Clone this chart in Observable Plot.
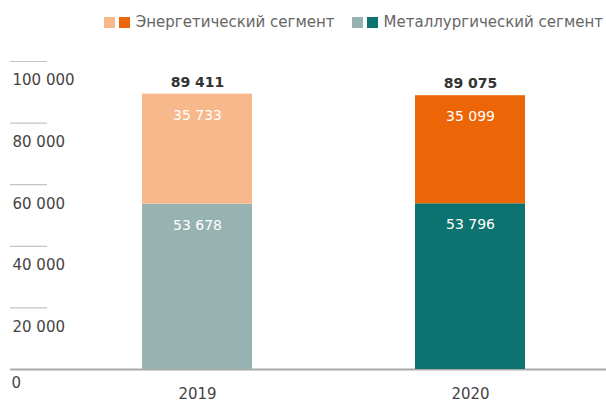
<!DOCTYPE html>
<html>
<head>
<meta charset="utf-8">
<script src="https://cdn.jsdelivr.net/npm/d3@7"></script>
<script src="https://cdn.jsdelivr.net/npm/@observablehq/plot@0.6"></script>
<style>
  html, body { margin: 0; padding: 0; background: #fff; overflow: hidden; }
  body { width: 606px; height: 402px; font-family: "DejaVu Sans", sans-serif; }
  #legend { height: 40px; display: flex; justify-content: flex-end; align-items: flex-start; padding-right: 3px; box-sizing: border-box; padding-top: 15px; font-size: 15px; color: #666; }
  .item { display: flex; align-items: center; margin-left: 17px; }
  .sw { width: 11px; height: 11px; margin-right: 4px; }
  .item span.lbl { margin-left: 2px; line-height: 15px; }
</style>
</head>
<body>
<div id="legend"></div>
<div id="chart"></div>
<script>
const years = ["2019", "2020"];
const metallurgical = [53678, 53796];
const energy = [35733, 35099];
const totals = [89411, 89075];
const segmentNames = ["Энергетический сегмент", "Металлургический сегмент"];
const energyColors = ["#F7B98B", "#EC6608"];
const metColors = ["#96B2B1", "#0D7370"];
const yTicks = [20000, 40000, 60000, 80000, 100000];

const fmt = d3.formatLocale({thousands: " ", grouping: [3], decimal: ",", currency: ["", ""]}).format(",d");

// legend
const legend = document.getElementById("legend");
[[energyColors, segmentNames[0]], [metColors, segmentNames[1]]].forEach(([cols, name]) => {
  const it = document.createElement("div");
  it.className = "item";
  cols.forEach(c => {
    const s = document.createElement("div");
    s.className = "sw";
    s.style.background = c;
    it.appendChild(s);
  });
  const l = document.createElement("span");
  l.className = "lbl";
  l.textContent = name;
  it.appendChild(l);
  legend.appendChild(it);
});

const rows = [];
years.forEach((y, i) => {
  rows.push({year: y, segment: segmentNames[1], value: metallurgical[i], color: metColors[i]});
  rows.push({year: y, segment: segmentNames[0], value: energy[i], color: energyColors[i]});
});
const totalRows = years.map((y, i) => ({year: y, total: totals[i]}));

const chart = Plot.plot({
  width: 606,
  height: 382,
  marginLeft: 10,
  marginRight: 0,
  marginTop: 21,
  marginBottom: 53,
  style: {fontFamily: "DejaVu Sans, sans-serif", background: "#fff"},
  x: {domain: years, paddingInner: 0.597, paddingOuter: 0.39, align: 0.62, label: null},
  y: {domain: [0, 100000], label: null},
  color: {type: "identity"},
  marks: [
    Plot.axisY({ticks: yTicks, tickSize: -37, text: null, stroke: "#c4c4c4", strokeWidth: 1.2}),
    Plot.axisY({ticks: yTicks, tickSize: 0, tickPadding: 0, textAnchor: "start", dx: 2, dy: 19, fontSize: 15, fill: "#444", tickFormat: fmt}),
    Plot.axisY({ticks: [0], tickSize: 0, tickPadding: 0, textAnchor: "start", dx: 1, dy: 14, fontSize: 15, fill: "#444", tickFormat: fmt}),
    Plot.axisX({tickSize: 0, tickPadding: 19, fontSize: 15, fill: "#444"}),
    Plot.ruleY([0], {stroke: "#aaa", strokeWidth: 2}),
    Plot.barY(rows, {x: "year", y: "value", fill: "color"}),
    Plot.text(rows, Plot.stackY2({x: "year", y: "value", text: d => fmt(d.value), fill: "#fff", fontSize: 14, dy: 21})),
    Plot.text(totalRows, {x: "year", y: "total", text: d => fmt(d.total), fill: "#333", fontSize: 14, fontWeight: "bold", dy: -12})
  ]
});
document.getElementById("chart").appendChild(chart);
</script>
</body>
</html>
